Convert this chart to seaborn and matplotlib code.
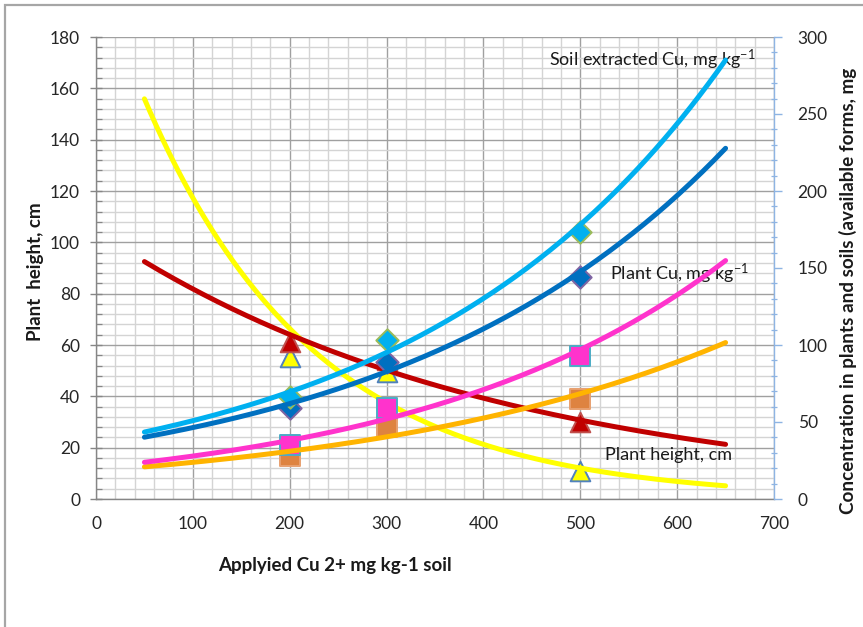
import numpy as np
import pandas as pd
import matplotlib
matplotlib.use("Agg")
import matplotlib.pyplot as plt
import seaborn as sns
from matplotlib.ticker import MultipleLocator
from matplotlib.patches import Rectangle

# Applied Cu doses (mg/kg soil)
applied_cu = [200, 300, 500]

# Left axis: plant height, cm
plant_height_red = [61.0, 54.0, 30.0]
plant_height_yellow = [55.3, 49.5, 11.0]

# Right axis: concentrations, mg/kg
soil_extracted_cu = [66.0, 103.0, 173.5]
plant_cu = [59.0, 89.0, 144.0]
pink_series = [35.0, 59.0, 93.0]
orange_series = [28.0, 47.0, 65.0]

# Span of the exponential trend lines
trend_span = (50, 650)

sns.set_theme(style="white")
plt.rcParams["font.family"] = ["Lato", "DejaVu Sans"]
plt.rcParams["mathtext.fontset"] = "custom"
plt.rcParams["mathtext.rm"] = "Lato"
plt.rcParams["mathtext.it"] = "Lato:italic"
plt.rcParams["mathtext.bf"] = "Lato:bold"

fig = plt.figure(figsize=(8.63, 6.27), dpi=100)
fig.patch.set_facecolor("white")

# outer chart frame
fig.patches.append(Rectangle((5 / 863, -0.2), 1.3, 0.2 + (627 - 5) / 627,
                             transform=fig.transFigure, fill=False,
                             edgecolor="#A6A6A6", linewidth=1.6, zorder=0))

ax = fig.add_axes([96 / 863, (627 - 499) / 627, (774 - 96) / 863, (499 - 37) / 627])
ax2 = ax.twinx()


def exp_trend(x, y, span):
    """Exponential least-squares trend, y = a*exp(b*x)."""
    b, ln_a = np.polyfit(np.asarray(x, float), np.log(np.asarray(y, float)), 1)
    xs = np.linspace(span[0], span[1], 200)
    return pd.DataFrame({"x": xs, "y": np.exp(ln_a + b * xs)})


def draw_series(axis, y, marker, size, face, edge, line_color):
    pts = pd.DataFrame({"x": applied_cu, "y": y})
    sns.scatterplot(data=pts, x="x", y="y", ax=axis, marker=marker, s=size,
                    color=face, edgecolor=edge, linewidth=1.4, zorder=3,
                    legend=False)
    trend = exp_trend(applied_cu, y, trend_span)
    sns.lineplot(data=trend, x="x", y="y", ax=axis, color=line_color,
                 linewidth=3.6, zorder=4, legend=False, sort=False)


# left axis series
draw_series(ax, plant_height_yellow, "^", 200, "#FFFF00", "#4F81BD", "#FFFF00")
draw_series(ax, plant_height_red, "^", 200, "#C00000", "#C0504D", "#C00000")

# right axis series
draw_series(ax2, orange_series, "s", 210, "#DE8340", "#E8A070", "#FFB400")
draw_series(ax2, pink_series, "s", 210, "#FF33CC", "#4BACC6", "#FF33CC")
draw_series(ax2, plant_cu, "D", 130, "#0070C0", "#8064A2", "#0070C0")
draw_series(ax2, soil_extracted_cu, "D", 130, "#00B0F0", "#9BBB59", "#00B0F0")

# axes limits and ticks
ax.set_xlim(0, 700)
ax.set_ylim(0, 180)
ax2.set_ylim(0, 300)
ax.xaxis.set_major_locator(MultipleLocator(100))
ax.xaxis.set_minor_locator(MultipleLocator(20))
ax.yaxis.set_major_locator(MultipleLocator(20))
ax.yaxis.set_minor_locator(MultipleLocator(4))
ax2.yaxis.set_major_locator(MultipleLocator(50))
ax2.yaxis.set_minor_locator(MultipleLocator(10))

ax.set_axisbelow(True)
ax.grid(which="major", color="#A0A0A0", linewidth=1.0)
ax.grid(which="minor", color="#D4D4D4", linewidth=1.0)
ax2.grid(False)

axis_gray = "#868686"
for side in ("top", "right"):
    ax.spines[side].set_visible(False)
for side in ("left", "bottom"):
    ax.spines[side].set_color(axis_gray)
    ax.spines[side].set_linewidth(1.0)
for side in ("top", "left", "bottom"):
    ax2.spines[side].set_visible(False)
ax2.spines["right"].set_color("#8EB4E3")
ax2.spines["right"].set_linewidth(1.0)

ax.tick_params(axis="both", which="major", direction="inout", length=9,
               width=1.0, color=axis_gray, labelsize=12.5, labelcolor="#262626")
ax.tick_params(axis="y", which="major", pad=7)
ax.tick_params(axis="x", which="major", pad=8)
ax.tick_params(axis="both", which="minor", direction="in", length=4,
               width=0.9, color=axis_gray)
ax2.tick_params(axis="y", which="major", direction="out", length=6, width=1.0,
                color="#8EB4E3", labelsize=12.5, labelcolor="#262626", pad=11)
ax2.tick_params(axis="y", which="minor", direction="inout", length=5,
                width=0.9, color="#8EB4E3")

ax.set_xlabel("")
ax.set_ylabel("")
ax2.set_ylabel("")

# axis titles
fig.text(35 / 863, (627 - 272) / 627, "Plant  height, cm", rotation=90,
         ha="center", va="center", fontsize=13.5, fontweight="bold",
         color="#1A1A1A")
fig.text(335 / 863, (627 - 566) / 627, "Applyied Cu 2+ mg kg-1 soil",
         ha="center", va="center", fontsize=13.5, fontweight="bold",
         color="#1A1A1A")
fig.text(848 / 863, (627 - 291) / 627,
         "Concentration in plants and soils (available forms, mg",
         rotation=90, ha="center", va="center", fontsize=13.6,
         fontweight="bold", color="#1A1A1A")

# series annotations
ax.text(468, 171, r"Soil extracted Cu, mg kg$^{\mathregular{-1}}$", fontsize=13,
        va="center", ha="left", color="#1A1A1A", zorder=6)
ax.text(531, 87.6, r"Plant Cu, mg kg$^{\mathregular{-1}}$", fontsize=13,
        va="center", ha="left", color="#1A1A1A", zorder=6)
ax.text(525.5, 17.1, "Plant height, cm", fontsize=13,
        va="center", ha="left", color="#1A1A1A", zorder=6)

fig.savefig("out.png", dpi=100)
